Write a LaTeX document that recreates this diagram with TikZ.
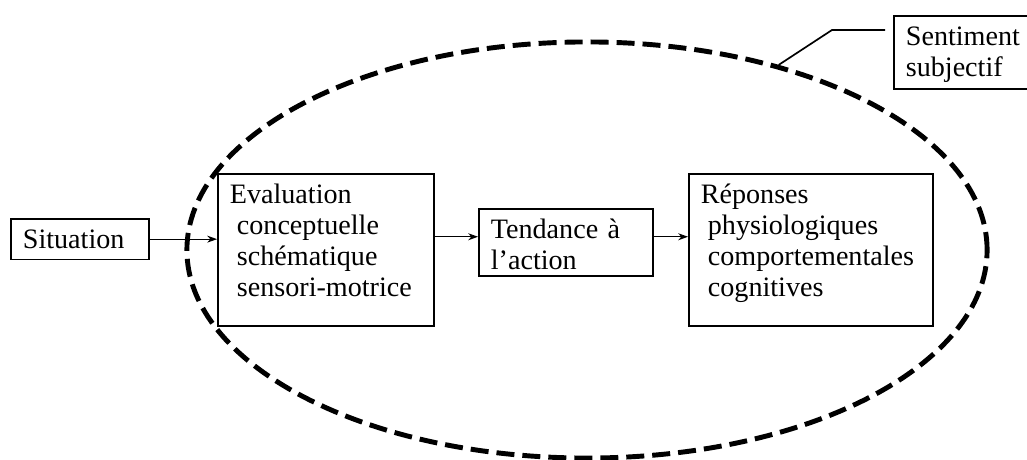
\documentclass[tikz,border=0pt]{standalone}
\usepackage{fontspec}
\setmainfont{Liberation Serif}
\usepackage{tikz}
\usetikzlibrary{shapes.geometric, arrows.meta, positioning, calc}
\tikzstyle{boite} = [rectangle, draw=black, line width=1.3pt, anchor=north west, align=left, inner xsep=8.5pt, inner ysep=7.5pt, text height=13.8pt, font=\fontsize{20}{22}\selectfont]
\tikzstyle{fleche} = [line width=0.7pt,-{Stealth[length=7pt,width=5pt]}]
\tikzstyle{pointille} = [ellipse, draw=black, line width=3.5pt, dash pattern=on 0.45cm off 0.2cm, inner sep=0pt]

\begin{document}
\begin{tikzpicture}[x=0.025cm, y=-0.025cm]
\useasboundingbox (0,0) rectangle (1027,460);

\node (cadre) [pointille, minimum width=20cm, minimum height=10.4cm] at (587,250) {};

\node (sit) [boite, text width=2.85cm, text depth=0pt] at (10,218) {Situation};
\node (eval) [boite, text width=4.8cm, text depth=79.3pt] at (217,173) {Evaluation\\\hspace*{5pt}conceptuelle\\\hspace*{5pt}schématique\\\hspace*{5pt}sensori-motrice};
\node (tend) [boite, text width=3.75cm, text depth=18.8pt] at (478,208) {Tendance à\\l’action};
\node (rep) [boite, text width=5.5cm, text depth=79.3pt] at (688,173) {Réponses\\\hspace*{5pt}physiologiques\\\hspace*{5pt}comportementales\\\hspace*{5pt}cognitives};
\node (sent) [boite, text width=4.5cm, text depth=23.1pt] at (893,15) {Sentiment\\subjectif};

\coordinate (coude) at (832,30);
\coordinate (bout) at (885,30);

\draw [fleche] (sit.east) -- (sit.east -| eval.west);
\draw [fleche] ([yshift=4pt]tend.west -| eval.east) -- ([yshift=4pt]tend.west);
\draw [fleche] ([yshift=4pt]tend.east) -- ([yshift=4pt]tend.east -| rep.west);
\draw [line width=1.2pt] (cadre.44) -- (coude) -- (bout);
\end{tikzpicture}
\end{document}
